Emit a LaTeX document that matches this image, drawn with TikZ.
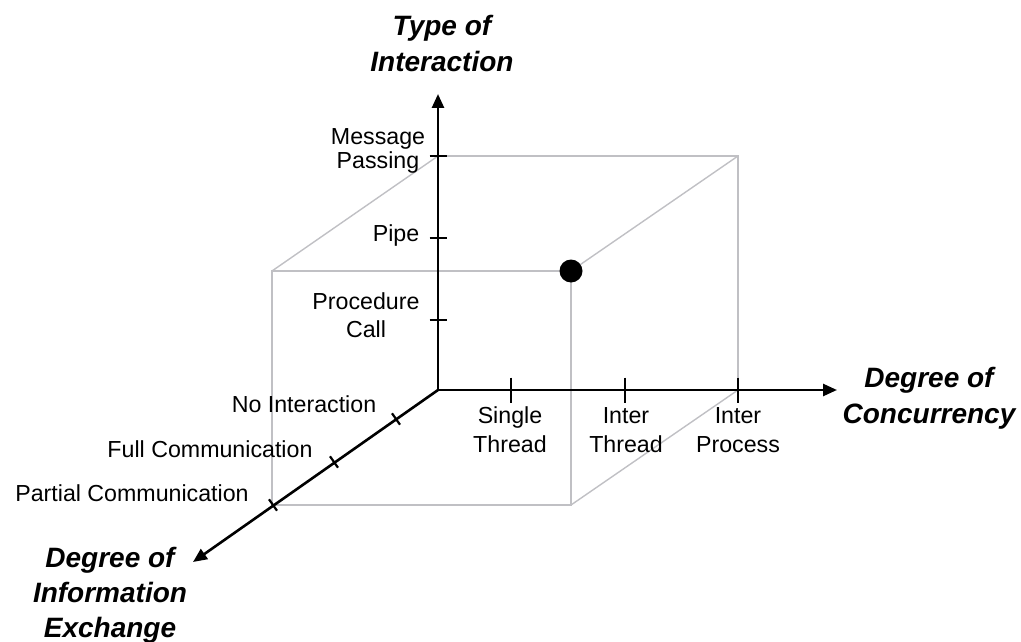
\documentclass[tikz,border=0pt]{standalone}
\usepackage{fontspec}
\setmainfont{Liberation Sans}
\usetikzlibrary{arrows.meta}
\definecolor{cubegray}{RGB}{192,192,196}
\begin{document}
\begin{tikzpicture}[x=1pt,y=-1pt,
  axis/.style={line width=2.6pt, -{Triangle[length=14pt,width=12pt]}},
  tickmark/.style={line width=2.2pt},
  cube/.style={line width=1.4pt, draw=cubegray},
  lab/.style={font=\fontsize{23.2}{29}\selectfont, inner sep=0pt, align=center, anchor=base},
  labtight/.style={lab, font=\fontsize{23.2}{24}\selectfont},
  labmid/.style={lab, font=\fontsize{23.2}{28}\selectfont},
  ttl/.style={font=\fontsize{28}{36}\selectfont\bfseries\itshape, inner sep=0pt, align=center, anchor=base},
  ttlz/.style={ttl, font=\fontsize{28}{35}\selectfont\bfseries\itshape}]
\useasboundingbox (0,0) rectangle (1021,642);
% coordinates
\coordinate (O) at (438,390);
\coordinate (Ytip) at (438,94);
\coordinate (Xtip) at (837,390);
\coordinate (Ztip) at (193,562);
\coordinate (B1) at (438,156);
\coordinate (B2) at (738,156);
\coordinate (B3) at (738,390);
\coordinate (F1) at (272,271);
\coordinate (F2) at (571,271);
\coordinate (F3) at (571,505);
\coordinate (F4) at (272,505);
% cube
\draw[cube] (B1) -- (B2) -- (B3);
\draw[cube] (B1) -- (F1);
\draw[cube] (B2) -- (F2);
\draw[cube] (B3) -- (F3);
\draw[cube] (F1) -- (F2) -- (F3) -- (F4) -- cycle;
% axes
\draw[axis] (O) -- (Ytip);
\draw[axis] (O) -- (Xtip);
\draw[axis] (O) -- (Ztip);
% ticks vertical
\draw[tickmark] (429.5,156) -- (446.5,156);
\draw[tickmark] (429.5,238) -- (446.5,238);
\draw[tickmark] (429.5,320) -- (446.5,320);
% ticks horizontal
\draw[tickmark] (511,377.5) -- (511,402.5);
\draw[tickmark] (625,377.5) -- (625,402.5);
\draw[tickmark] (738,377.5) -- (738,402.5);
% ticks diagonal
\draw[tickmark] (392,413.3) -- (400,424.7);
\draw[tickmark] (330,456.3) -- (338,467.7);
\draw[tickmark] (269,499.3) -- (277,510.7);
% dot
\node[circle, fill=black, inner sep=0pt, minimum size=23pt] (dot) at (F2) {};
% labels (base anchor = baseline of last line)
\node[labtight] (mp) at (378,168) {Message\\Passing};
\node[lab] (pipe) at (396,241) {Pipe};
\node[labmid] (pc) at (366,337) {Procedure\\Call};
\node[lab] (ni) at (304,412) {No Interaction};
\node[lab] (fc) at (210,457) {Full Communication};
\node[lab] (pac) at (132,501) {Partial Communication};
\node[lab] (st) at (510,452) {Single\\Thread};
\node[lab] (it) at (626,452) {Inter\\Thread};
\node[lab] (ip) at (738,452) {Inter\\Process};
% titles
\node[ttl] (t1) at (442,72) {Type of\\Interaction};
\node[ttl] (t2) at (929,423) {Degree of\\Concurrency};
\node[ttlz] (t3) at (110,637) {Degree of\\Information\\Exchange};
\end{tikzpicture}
\end{document}
